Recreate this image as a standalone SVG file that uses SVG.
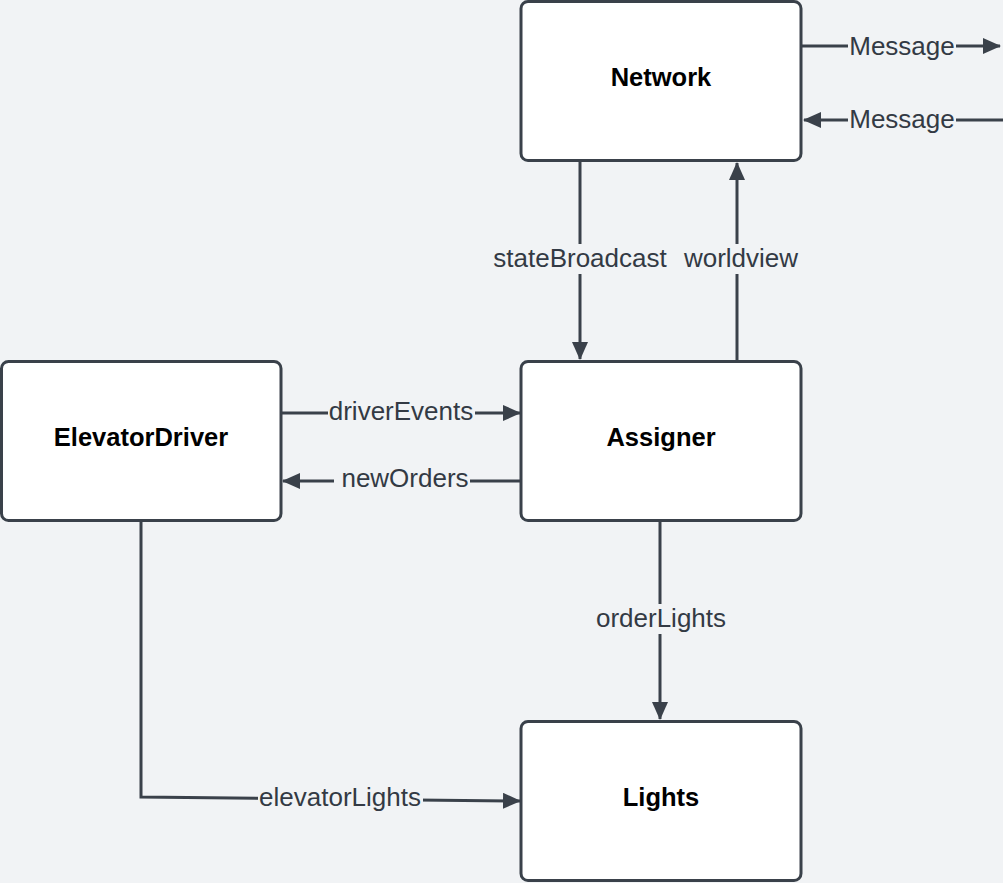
<svg xmlns="http://www.w3.org/2000/svg" width="1003" height="883" viewBox="0 0 1003 883">
<style>
.node rect{fill:#ffffff;stroke:#3a414a;stroke-width:3}
.node text{font-family:"Liberation Sans",Arial,sans-serif;font-size:25.5px;font-weight:bold;fill:#000;text-anchor:middle;dominant-baseline:central}
.edge{fill:none;stroke:#3a414a;stroke-width:3}
.lbl{font-family:"Liberation Sans",Arial,sans-serif;font-size:26px;fill:#333a44;text-anchor:middle;dominant-baseline:central}
.bg{fill:#f1f3f5}
</style>
<defs>
<marker id="ah" markerWidth="18" markerHeight="16" refX="17" refY="8" orient="auto" markerUnits="userSpaceOnUse">
<path d="M0,0 L18,8 L0,16 Z" fill="#3a414a"/>
</marker>
</defs>
<rect width="1003" height="883" fill="#f1f3f5"/>
<g id="connectors">
<path class="edge" d="M802,46 H1000" marker-end="url(#ah)"/>
<path class="edge" d="M1003,120 H804" marker-end="url(#ah)"/>
<path class="edge" d="M580,162 V359" marker-end="url(#ah)"/>
<path class="edge" d="M737,360 V163" marker-end="url(#ah)"/>
<path class="edge" d="M282,413 H520" marker-end="url(#ah)"/>
<path class="edge" d="M520,481 H283" marker-end="url(#ah)"/>
<path class="edge" d="M660,522 V719" marker-end="url(#ah)"/>
<path class="edge" d="M141,522 V797 L520,801" marker-end="url(#ah)"/>
<rect class="bg" x="848" y="32" width="108" height="28"/>
<text class="lbl" x="902" y="46">Message</text>
<rect class="bg" x="848" y="106" width="108" height="28"/>
<text class="lbl" x="902" y="119">Message</text>
<rect class="bg" x="488" y="244" width="184" height="30"/>
<text class="lbl" x="580" y="258">stateBroadcast</text>
<rect class="bg" x="680" y="244" width="122" height="30"/>
<text class="lbl" x="741" y="258">worldview</text>
<rect class="bg" x="328" y="399" width="147" height="28"/>
<text class="lbl" x="401" y="411">driverEvents</text>
<rect class="bg" x="334" y="465" width="136" height="28"/>
<text class="lbl" x="405" y="478">newOrders</text>
<rect class="bg" x="593" y="604" width="136" height="30"/>
<text class="lbl" x="661" y="618">orderLights</text>
<rect class="bg" x="258" y="783" width="165" height="28"/>
<text class="lbl" x="340" y="797">elevatorLights</text>
</g>
<g id="network" class="node"><rect x="521" y="1.5" width="280" height="159" rx="7"/><text x="661" y="77">Network</text></g>
<g id="elevatordriver" class="node"><rect x="1.5" y="361.5" width="279.5" height="159" rx="7"/><text x="141" y="437">ElevatorDriver</text></g>
<g id="assigner" class="node"><rect x="521" y="361.5" width="280" height="159" rx="7"/><text x="661" y="437">Assigner</text></g>
<g id="lights" class="node"><rect x="521" y="721.5" width="280" height="159" rx="7"/><text x="661" y="797">Lights</text></g>
</svg>
